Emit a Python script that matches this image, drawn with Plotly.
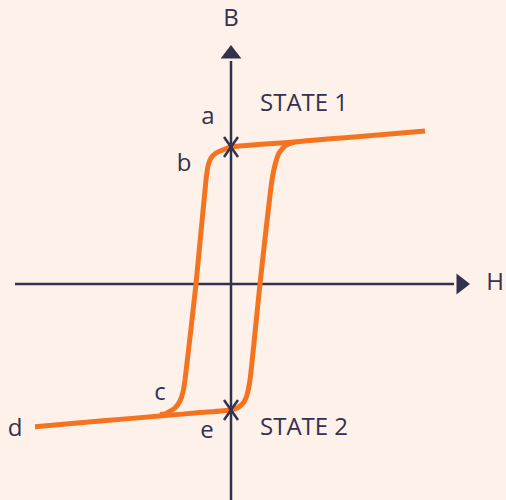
import plotly.graph_objects as go

# Data in chart units (H to the right, B upwards), origin at the axes crossing
H_up = [-196, -131, -66, -31, 0, 7, 13, 16, 19, 29, 41, 44, 48, 54, 64, 129, 194]
B_up = [-142.7, -137.1, -131.6, -128.6, -126, -123.5, -118, -111, -96, 0, 104, 119, 131, 138, 142, 147.5, 153]
H_down = [64, 0, -7, -15, -20, -23, -25, -35, -46, -48, -51, -56, -65, -71]
B_down = [142, 137, 134.5, 131, 126, 118, 104, 0, -96, -108, -117, -124, -129.5, -130.5]

cross_H = [0, 0]
cross_B = [137, -126]

point_labels = ["a", "b", "c", "d", "e"]
point_H = [-23, -47, -71, -216, -24]
point_B = [166, 119, -110, -146, -148]

state_labels = ["STATE 1", "STATE 2"]
state_H = [29, 29]
state_B = [179, -145]

axis_labels = ["B", "H"]
X_MIN, X_MAX = -216, 239
Y_MIN, Y_MAX = -216, 239

navy = "#33314e"
orange = "#f37321"
bg = "#fdf1ea"
font_family = "Open Sans"
CROSS_W, CROSS_H = 7, 10

fig = go.Figure()

# axes lines
fig.add_trace(go.Scatter(x=[X_MIN, X_MAX - 16], y=[0, 0], mode="lines",
                         line=dict(color=navy, width=2.5), hoverinfo="skip"))
fig.add_trace(go.Scatter(x=[0, 0], y=[Y_MIN, Y_MAX - 16], mode="lines",
                         line=dict(color=navy, width=2.5), hoverinfo="skip"))
# arrow heads
fig.add_trace(go.Scatter(x=[X_MAX - 9], y=[0], mode="markers",
                         marker=dict(symbol="triangle-right", size=18, color=navy),
                         hoverinfo="skip"))
fig.add_trace(go.Scatter(x=[0], y=[Y_MAX - 9], mode="markers",
                         marker=dict(symbol="triangle-up", size=18, color=navy),
                         hoverinfo="skip"))

# hysteresis loop
fig.add_trace(go.Scatter(x=H_up, y=B_up, mode="lines",
                         line=dict(color=orange, width=5, shape="spline", smoothing=0.5),
                         hoverinfo="skip"))
fig.add_trace(go.Scatter(x=H_down, y=B_down, mode="lines",
                         line=dict(color=orange, width=5, shape="spline", smoothing=0.5),
                         hoverinfo="skip"))

# crosses (two strokes each)
cx, cy = [], []
for h, b in zip(cross_H, cross_B):
    cx += [h - CROSS_W, h + CROSS_W, None, h - CROSS_W, h + CROSS_W, None]
    cy += [b + CROSS_H, b - CROSS_H, None, b - CROSS_H, b + CROSS_H, None]
fig.add_trace(go.Scatter(x=cx, y=cy, mode="lines",
                         line=dict(color=navy, width=2.5), hoverinfo="skip"))

# point labels
fig.add_trace(go.Scatter(x=point_H, y=point_B, mode="text", text=point_labels,
                         textfont=dict(family=font_family, size=24, color=navy),
                         hoverinfo="skip"))
fig.add_trace(go.Scatter(x=state_H, y=state_B, mode="text", text=state_labels,
                         textposition="middle right",
                         textfont=dict(family=font_family, size=24, color=navy),
                         hoverinfo="skip"))
fig.add_trace(go.Scatter(x=[0, 264], y=[264, 0], mode="text", text=axis_labels,
                         textfont=dict(family=font_family, size=24, color=navy),
                         hoverinfo="skip"))

fig.update_layout(
    width=506, height=500,
    margin=dict(l=0, r=0, t=0, b=0),
    paper_bgcolor=bg, plot_bgcolor=bg,
    showlegend=False,
    xaxis=dict(range=[-231, 275], visible=False, fixedrange=True),
    yaxis=dict(range=[-216, 284], visible=False, fixedrange=True),
)

fig.write_html("out.html", config={"displayModeBar": False},
               post_script="document.body.style.margin='0';document.body.style.overflow='hidden';")
